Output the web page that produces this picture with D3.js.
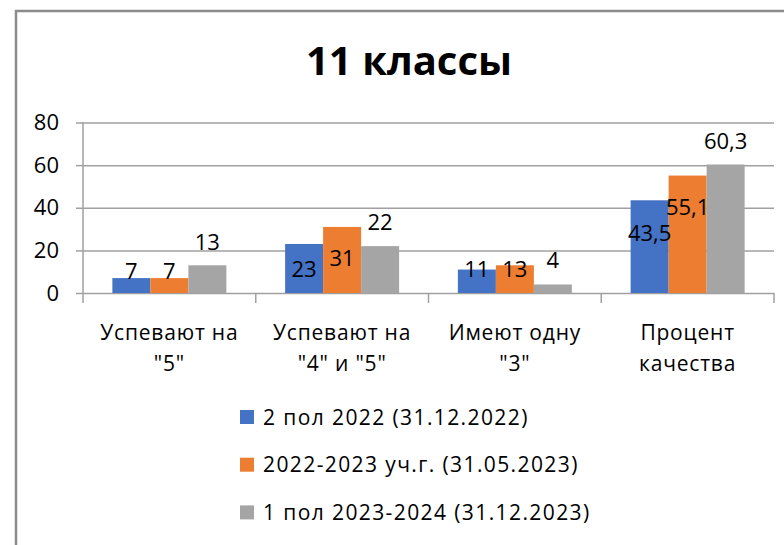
<!DOCTYPE html>
<html>
<head>
<meta charset="utf-8">
<script src="https://cdn.jsdelivr.net/npm/d3@7"></script>
<style>
  body { margin: 0; background: #fff; }
  text { font-family: "Open Sans", "Noto Sans", sans-serif; fill: #000; }
</style>
</head>
<body>
<div id="chart"></div>
<script>
// chart data
var categories = [["Успевают на", "\"5\""], ["Успевают на", "\"4\" и \"5\""], ["Имеют одну", "\"3\""], ["Процент", "качества"]];
var seriesNames = ["2 пол 2022 (31.12.2022)", "2022-2023 уч.г. (31.05.2023)", "1 пол 2023-2024 (31.12.2023)"];
var blueValues = [7, 23, 11, 43.5];
var orangeValues = [7, 31, 13, 55.1];
var grayValues = [13, 22, 4, 60.3];
var yTicks = [0, 20, 40, 60, 80];

var colors = ["#4472C4", "#ED7D31", "#A5A5A5"];
// data label vertical shift from bar top (px), as placed in the original
var labelShift = [[-7, 25, 0, 33], [-7, 31, 4, 32], [-23, -24, -24, -23]];

var W = 784, H = 545;
var svg = d3.select("#chart").append("svg")
    .attr("width", W)
    .attr("height", H);

// frame
svg.append("path")
    .attr("d", "M16,560 V11 H800")
    .attr("fill", "none")
    .attr("stroke", "#8c8c8c")
    .attr("stroke-width", 2.5);

// title
svg.append("text")
    .attr("x", 409)
    .attr("y", 75)
    .attr("text-anchor", "middle")
    .style("font-size", "40px")
    .style("font-weight", "bold")
    .text("11 классы");

var plotLeft = 83, plotRight = 774, plotTop = 122.5, plotBottom = 293;

var x0 = d3.scaleBand()
    .domain(d3.range(categories.length))
    .range([plotLeft, plotRight])
    .padding(0);

var x1 = d3.scaleBand()
    .domain(d3.range(seriesNames.length))
    .range([0, x0.bandwidth()])
    .paddingInner(0)
    .paddingOuter(0.773);

var y = d3.scaleLinear()
    .domain([0, 80])
    .range([plotBottom, plotTop]);

// gridlines + left ticks
var yAxis = svg.append("g")
    .attr("transform", "translate(" + plotLeft + ",0)")
    .call(d3.axisLeft(y).tickValues(yTicks).tickSize(7).tickPadding(17));
yAxis.select(".domain").remove();
yAxis.selectAll(".tick line").attr("stroke", "#a0a0a0").attr("stroke-width", 1.5);
yAxis.selectAll(".tick text").style("font-size", "22px").attr("fill", "#000");
yAxis.selectAll(".tick").append("line")
    .attr("x1", 0).attr("x2", plotRight - plotLeft)
    .attr("stroke", "#a0a0a0").attr("stroke-width", 1.5);

// vertical axis line
svg.append("line")
    .attr("x1", plotLeft).attr("x2", plotLeft)
    .attr("y1", plotTop).attr("y2", plotBottom)
    .attr("stroke", "#a0a0a0").attr("stroke-width", 1.5);

// category tick marks
svg.append("g")
    .selectAll("line")
    .data(d3.range(categories.length + 1))
    .enter()
    .append("line")
    .attr("x1", function (d) { return plotLeft + d * x0.step(); })
    .attr("x2", function (d) { return plotLeft + d * x0.step(); })
    .attr("y1", plotBottom)
    .attr("y2", plotBottom + 10)
    .attr("stroke", "#a0a0a0").attr("stroke-width", 1.5);

var allValues = [blueValues, orangeValues, grayValues];

// bars
allValues.forEach(function (vals, s) {
  svg.append("g")
      .selectAll("rect")
      .data(vals)
      .enter()
      .append("rect")
      .attr("x", function (d, i) { return x0(i) + x1(s); })
      .attr("y", function (d) { return y(d); })
      .attr("width", x1.bandwidth())
      .attr("height", function (d) { return y(0) - y(d); })
      .attr("fill", colors[s]);
});

// data labels
allValues.forEach(function (vals, s) {
  svg.append("g")
      .selectAll("text")
      .data(vals)
      .enter()
      .append("text")
      .attr("x", function (d, i) { return x0(i) + x1(s) + x1.bandwidth() / 2; })
      .attr("y", function (d, i) { return y(d) + labelShift[s][i]; })
      .attr("dy", "0.36em")
      .attr("text-anchor", "middle")
      .style("font-size", "22px")
      .text(function (d) { return String(d).replace(".", ","); });
});

// category labels
var catG = svg.append("g");
categories.forEach(function (lines, i) {
  var t = catG.append("text")
      .attr("x", x0(i) + x0.bandwidth() / 2)
      .attr("y", 340)
      .attr("text-anchor", "middle")
      .style("font-size", "21px")
      .style("letter-spacing", "0.8px");
  lines.forEach(function (ln, k) {
    t.append("tspan")
        .attr("x", x0(i) + x0.bandwidth() / 2)
        .attr("dy", k == 0 ? 0 : 31)
        .text(ln);
  });
});

// legend
var legend = svg.append("g")
    .selectAll("g")
    .data(seriesNames)
    .enter()
    .append("g")
    .attr("transform", function (d, i) { return "translate(240," + (417 + i * 47.7) + ")"; });

legend.append("rect")
    .attr("x", 0).attr("y", -7)
    .attr("width", 14).attr("height", 14)
    .attr("fill", function (d, i) { return colors[i]; });

legend.append("text")
    .attr("x", 23)
    .attr("y", 0)
    .attr("dy", "0.36em")
    .style("font-size", "21px")
    .style("letter-spacing", "1.4px")
    .text(function (d) { return d; });
</script>
</body>
</html>
